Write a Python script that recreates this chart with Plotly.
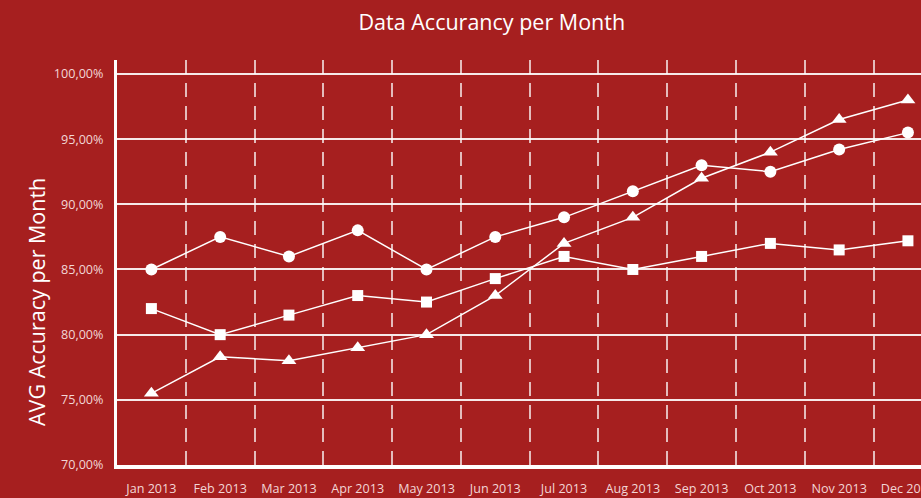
import plotly.graph_objects as go

months = ["Jan 2013", "Feb 2013", "Mar 2013", "Apr 2013", "May 2013", "Jun 2013",
          "Jul 2013", "Aug 2013", "Sep 2013", "Oct 2013", "Nov 2013", "Dec 2013"]
circle_vals = [85.0, 87.5, 86.0, 88.0, 85.0, 87.5, 89.0, 91.0, 93.0, 92.5, 94.2, 95.5]
square_vals = [82.0, 80.0, 81.5, 83.0, 82.5, 84.3, 86.0, 85.0, 86.0, 87.0, 86.5, 87.2]
triangle_vals = [75.5, 78.3, 78.0, 79.0, 80.0, 83.0, 87.0, 89.0, 92.0, 94.0, 96.5, 98.0]
y_ticks = [70, 75, 80, 85, 90, 95, 100]
y_ticktext = ["70,00%", "75,00%", "80,00%", "85,00%", "90,00%", "95,00%", "100,00%"]

BG = "#A61F1F"
FONT = "Open Sans, Lato, sans-serif"

fig = go.Figure()
for vals, sym, sz, name in [(circle_vals, "circle", 12, "A"),
                            (square_vals, "square", 11, "B"),
                            (triangle_vals, "triangle-up", 13, "C")]:
    fig.add_trace(go.Scatter(
        x=months, y=vals, mode="lines+markers", name=name,
        line=dict(color="white", width=1.5),
        marker=dict(symbol=sym, size=sz, color="white", line=dict(width=0)),
        showlegend=False, cliponaxis=False,
    ))

fig.update_layout(
    width=921, height=498,
    paper_bgcolor=BG, plot_bgcolor=BG,
    margin=dict(l=117, r=0, t=60, b=33),
    font=dict(family=FONT, color="#F2D6D6"),
    title=dict(text="Data Accurancy per Month", x=0.534, xanchor="center",
               y=0.955, yanchor="middle",
               font=dict(family=FONT, size=21.5, color="white")),
    annotations=[dict(text="AVG Accuracy per Month", textangle=-90,
                      xref="paper", yref="paper", x=-0.0995, y=0.4025,
                      xanchor="center", yanchor="middle", showarrow=False,
                      font=dict(family=FONT, size=21.5, color="white"))],
)
fig.update_xaxes(
    type="category", range=[-0.5, 11.19], tickson="boundaries",
    showgrid=True, gridcolor="rgba(255,255,255,0.7)", gridwidth=2,
    griddash="14px,9px",
    showline=True, linecolor="white", linewidth=4,
    ticks="", ticklabelstandoff=9,
    tickfont=dict(size=12.6, color="#F2D6D6"),
    automargin=False, zeroline=False,
)
fig.update_yaxes(
    range=[70, 101.07], tickvals=y_ticks, ticktext=y_ticktext,
    showgrid=True, gridcolor="rgba(255,255,255,0.9)", gridwidth=1.5,
    showline=True, linecolor="white", linewidth=3,
    ticks="", ticklabelstandoff=8,
    tickfont=dict(size=12.6, color="#F2D6D6"),
    automargin=False, zeroline=False,
)

fig.write_html("out.html", config={"displayModeBar": False},
               post_script="document.body.style.margin='0';document.body.style.overflow='hidden';")
